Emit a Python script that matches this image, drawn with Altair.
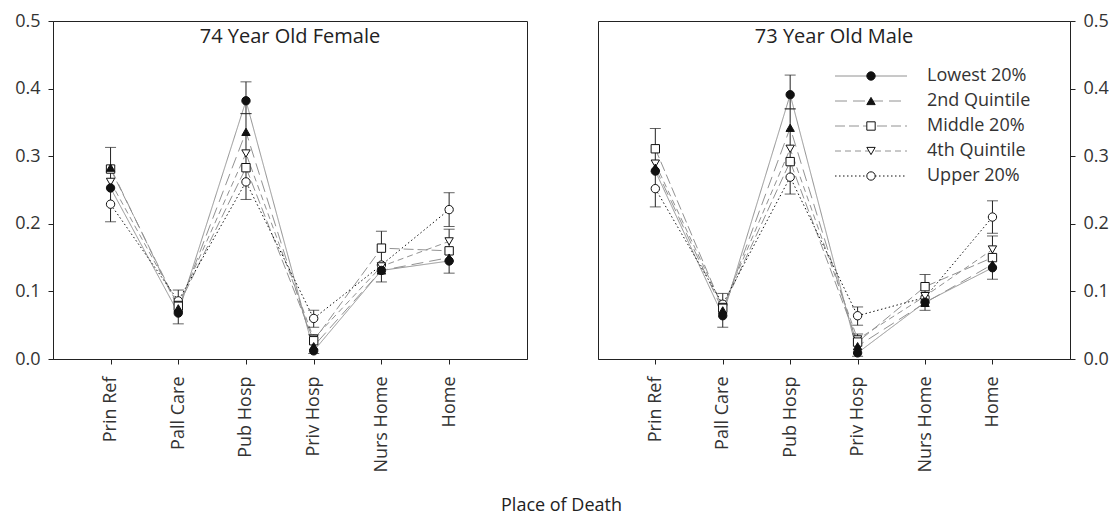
import altair as alt
import pandas as pd

categories = ["Prin Ref", "Pall Care", "Pub Hosp", "Priv Hosp", "Nurs Home", "Home"]
series = ["Lowest 20%", "2nd Quintile", "Middle 20%", "4th Quintile", "Upper 20%"]

# 74 year old female
female_lowest = [0.253, 0.068, 0.382, 0.012, 0.131, 0.145]
female_second = [0.283, 0.075, 0.336, 0.019, 0.131, 0.150]
female_middle = [0.281, 0.078, 0.283, 0.027, 0.164, 0.160]
female_fourth = [0.262, 0.080, 0.304, 0.030, 0.137, 0.174]
female_upper = [0.229, 0.086, 0.262, 0.060, 0.139, 0.221]

female_err_place = ["Prin Ref", "Pall Care", "Pub Hosp", "Pub Hosp", "Priv Hosp", "Priv Hosp", "Nurs Home", "Home", "Home"]
female_err_lo = [0.203, 0.052, 0.363, 0.236, 0.047, 0.008, 0.114, 0.196, 0.127]
female_err_hi = [0.313, 0.102, 0.410, 0.363, 0.072, 0.036, 0.189, 0.246, 0.192]

# 73 year old male
male_lowest = [0.278, 0.064, 0.391, 0.009, 0.084, 0.135]
male_second = [0.283, 0.072, 0.342, 0.019, 0.083, 0.140]
male_middle = [0.311, 0.075, 0.292, 0.025, 0.107, 0.150]
male_fourth = [0.289, 0.077, 0.311, 0.029, 0.093, 0.162]
male_upper = [0.252, 0.081, 0.269, 0.064, 0.091, 0.210]

male_err_place = ["Prin Ref", "Pall Care", "Pub Hosp", "Pub Hosp", "Priv Hosp", "Priv Hosp", "Nurs Home", "Home", "Home"]
male_err_lo = [0.225, 0.047, 0.370, 0.244, 0.050, 0.004, 0.072, 0.186, 0.118]
male_err_hi = [0.341, 0.097, 0.420, 0.370, 0.077, 0.037, 0.125, 0.234, 0.182]

y_ticks = [0.0, 0.1, 0.2, 0.3, 0.4, 0.5]

FONT = "Open Sans"
shapes = ["circle", "triangle-up", "square", "triangle-down", "circle"]
fills = ["#111111", "#111111", "white", "white", "white"]
line_colors = ["#929292", "#929292", "#929292", "#929292", "#111111"]
dashes = [[1, 0], [12, 6], [10, 4], [6, 4], [1.5, 2.5]]

H = 338


def panel(vals, err_place, err_lo, err_hi, title, orient, width, legend=False):
    rows = []
    for s, v in zip(series, vals):
        for c, y in zip(categories, v):
            rows.append({"series": s, "place": c, "value": y})
    df = pd.DataFrame(rows)
    pts = df.iloc[::-1].reset_index(drop=True)

    xscale = alt.Scale(type="point", domain=categories, padding=1.037, align=0.425)
    yscale = alt.Scale(domain=[0, 0.5], nice=False, zero=False)
    xaxis = alt.Axis(labelAngle=-90, labelAlign="right", labelBaseline="middle",
                     labelPadding=12, tickSize=5, grid=False, domain=True)
    yaxis = alt.Axis(orient=orient, values=y_ticks, format=".1f", grid=False,
                     tickSize=5, labelPadding=8)

    def X(f):
        return alt.X(f, scale=xscale, axis=xaxis, title=None)

    def Y(f):
        return alt.Y(f, scale=yscale, axis=yaxis, title=None)

    lines = alt.Chart(df).mark_line(strokeWidth=1).encode(
        x=X("place:N"), y=Y("value:Q"),
        color=alt.Color("series:N", scale=alt.Scale(domain=series, range=line_colors), legend=None),
        strokeDash=alt.StrokeDash("series:N", scale=alt.Scale(domain=series, range=dashes), legend=None),
        detail="series:N",
    )

    errdf = pd.DataFrame({"place": err_place, "lo": err_lo, "hi": err_hi})
    bars = alt.Chart(errdf).mark_rule(color="#222222", strokeWidth=1).encode(
        x=X("place:N"), y=Y("lo:Q"), y2="hi:Q"
    )
    caps = alt.Chart(errdf).transform_fold(["lo", "hi"], as_=["end", "yv"]).mark_tick(
        color="#222222", size=11, thickness=1, orient="horizontal"
    ).encode(x=X("place:N"), y=Y("yv:Q"))

    points = alt.Chart(pts).mark_point(filled=True, size=70, stroke="#111111", strokeWidth=1, opacity=1).encode(
        x=X("place:N"), y=Y("value:Q"),
        shape=alt.Shape("series:N", scale=alt.Scale(domain=series, range=shapes), legend=None),
        fill=alt.Fill("series:N", scale=alt.Scale(domain=series, range=fills), legend=None),
    )

    ttl = alt.Chart(pd.DataFrame({"t": [title]})).mark_text(
        font=FONT, fontSize=20, color="#222222", baseline="middle"
    ).encode(text="t:N", x=alt.value(width / 2), y=alt.value(16))

    layers = [lines, bars, caps, points, ttl]

    if legend:
        for i, s in enumerate(series):
            ly = 55 + 25 * i
            ldf = pd.DataFrame({"series": [s]})
            layers.append(alt.Chart(ldf).mark_rule(
                color=line_colors[i], strokeDash=dashes[i], strokeWidth=1
            ).encode(x=alt.value(237), x2=alt.value(309), y=alt.value(ly)))
            layers.append(alt.Chart(ldf).mark_point(
                shape=shapes[i], filled=True, fill=fills[i], stroke="#111111",
                strokeWidth=1, size=70, opacity=1
            ).encode(x=alt.value(273), y=alt.value(ly)))
            layers.append(alt.Chart(ldf).mark_text(
                font=FONT, fontSize=18, color="#333333", align="left", baseline="middle"
            ).encode(text="series:N", x=alt.value(329), y=alt.value(ly)))

    return alt.layer(*layers).properties(width=width, height=H)


left = panel([female_lowest, female_second, female_middle, female_fourth, female_upper],
             female_err_place, female_err_lo, female_err_hi, "74 Year Old Female", "left", 474)
right = panel([male_lowest, male_second, male_middle, male_fourth, male_upper],
              male_err_place, male_err_lo, male_err_hi, "73 Year Old Male", "right", 472, legend=True)

chart = alt.hconcat(left, right, spacing=69).properties(
    title=alt.TitleParams("Place of Death", orient="bottom", anchor="middle", font=FONT,
                          fontSize=18, fontWeight="normal", color="#222222", offset=24),
    padding={"left": 14, "top": 11, "right": 0, "bottom": 0},
).configure_view(stroke="#222222", strokeWidth=1).configure_axis(
    domainColor="#222222", tickColor="#222222", labelColor="#333333",
    labelFont=FONT, labelFontSize=18,
)

chart.save("out.html", embed_options={"renderer": "svg", "actions": False})
